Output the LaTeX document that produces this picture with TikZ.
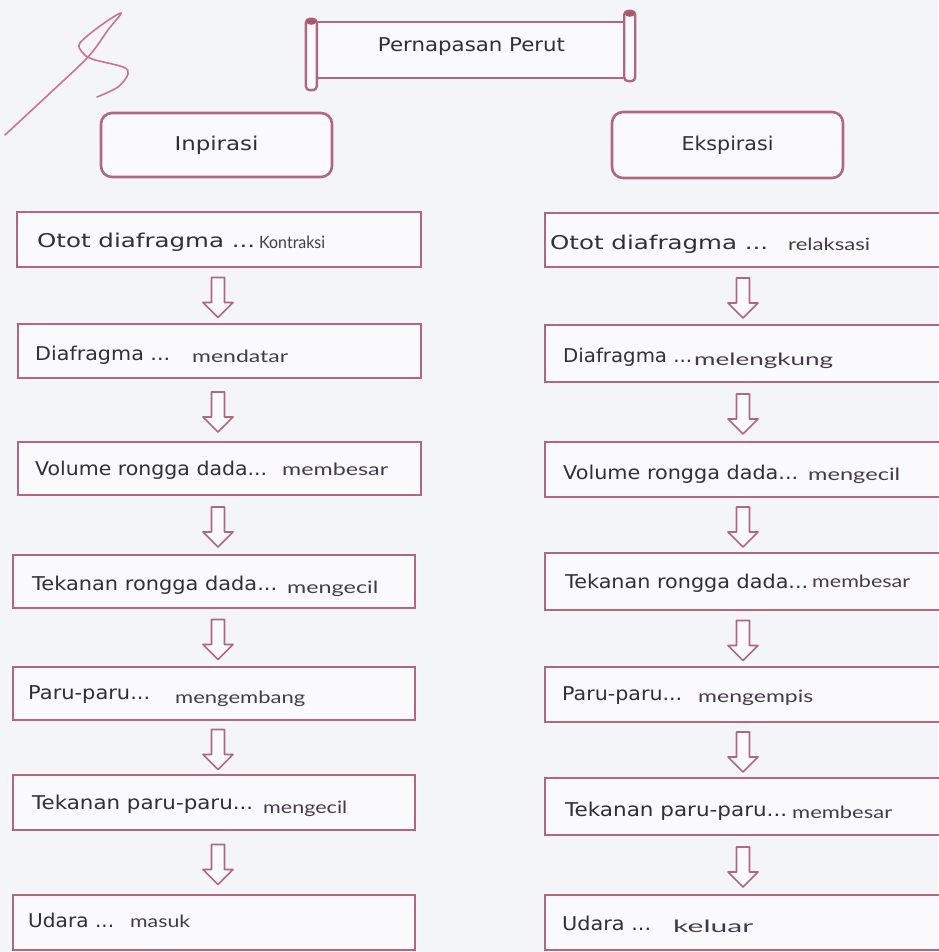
\documentclass[tikz,border=0pt]{standalone}
\usepackage{fontspec}
\usepackage{graphicx}
\setmainfont{DejaVu Sans}
\newfontfamily\hwfont{Lato}
\usetikzlibrary{calc}
\definecolor{bg}{RGB}{244,245,249}
\definecolor{boxfill}{RGB}{250,250,252}
\definecolor{frame}{RGB}{178,104,124}
\definecolor{capc}{RGB}{170,90,110}
\definecolor{ink}{RGB}{48,48,54}
\definecolor{pen}{RGB}{70,58,74}
\definecolor{squig}{RGB}{205,115,145}
\newcommand\hw[2]{\resizebox{#1pt}{\height}{#2}}
\begin{document}
\begin{tikzpicture}[x=1pt,y=-1pt,
  box/.style={draw=frame, line width=2.6pt, fill=boxfill, rectangle, inner sep=0pt},
  headbox/.style={draw=frame, line width=2.6pt, fill=boxfill, rectangle, rounded corners=11pt,
     minimum width=231pt, minimum height=64pt, font=\fontsize{19}{19}\selectfont, text=ink},
  typed/.style={font=\fontsize{19}{19}\selectfont, text=ink, inner sep=0pt, anchor=base west},
  hand/.style={font=\hwfont\fontsize{17}{17}\selectfont, text=pen, inner sep=0pt, anchor=base west},
  blk/.style={draw=frame, line width=1.7pt, fill=boxfill, line join=round},
  rollline/.style={draw=frame, line width=2.4pt, fill=boxfill},
  downblk/.pic={\draw[blk] (-6.5,-20) -- (6.5,-20) -- (6.5,5) -- (15,5) -- (0,20) -- (-15,5) -- (-6.5,5) -- cycle;}
]
\fill[bg] (0,0) rectangle (938,952);
\useasboundingbox (0,0) rectangle (938,952);

% signature squiggle
\draw[squig, line width=1.6pt, line cap=round, line join=round]
  plot[smooth, tension=0.55] coordinates {(5,135) (48,95) (88,57) (108,30) (121,13) (100,26) (80,43) (82,52) (92,59) (123,67) (128,74) (118,87) (97,97)};

% title scroll
\node[box, line width=2.4pt, minimum width=313pt, minimum height=56pt] (title) at (471.5,50) {};
\draw[rollline, rounded corners=4pt] ($(title.north west)+(-8,-2)$) rectangle ($(title.south west)+(3,11)$);
\draw[rollline, rounded corners=4pt] ($(title.north east)+(-5,-10)$) rectangle ($(title.south east)+(6,2)$);
\fill[capc] ($(title.north west)+(-2.5,1)$) ellipse (5pt and 3pt);
\fill[capc] ($(title.north east)+(0.5,-7)$) ellipse (5pt and 3pt);
\node[typed, anchor=center] (titletext) at (471.5,47) {\hw{187}{Pernapasan Perut}};

% headers
\node[headbox] (insp) at (216.5,145) {\hw{84}{Inpirasi}};
\node[headbox, minimum height=66pt] (eksp) at (727.5,145) {\hw{92}{Ekspirasi}};

% left column boxes
\node[box, minimum width=404pt, minimum height=55pt] (L1) at (219,239.5) {};
\node[box, minimum width=403pt, minimum height=54pt] (L2) at (219.5,351) {};
\node[box, minimum width=403pt, minimum height=53pt] (L3) at (219.5,468.5) {};
\node[box, minimum width=402pt, minimum height=53pt] (L4) at (214,581.5) {};
\node[box, minimum width=402pt, minimum height=53pt] (L5) at (214,693.5) {};
\node[box, minimum width=402pt, minimum height=55pt] (L6) at (214,802.5) {};
\node[box, minimum width=402pt, minimum height=55pt] (L7) at (214,922.5) {};

% right column boxes
\node[box, minimum width=400pt, minimum height=54pt] (R1) at (745,240) {};
\node[box, minimum width=400pt, minimum height=57pt] (R2) at (745,353.5) {};
\node[box, minimum width=400pt, minimum height=55pt] (R3) at (745,469.5) {};
\node[box, minimum width=400pt, minimum height=57pt] (R4) at (745,581.5) {};
\node[box, minimum width=400pt, minimum height=55pt] (R5) at (745,694.5) {};
\node[box, minimum width=400pt, minimum height=57pt] (R6) at (745,806.5) {};
\node[box, minimum width=400pt, minimum height=55pt] (R7) at (745,922.5) {};

% typed texts
\node[typed] (L1t) at (37,247.5) {\hw{218}{Otot diafragma ...}};
\node[typed] (L2t) at (35,360.5) {\hw{135}{Diafragma ...}};
\node[typed] (L3t) at (35,475.5) {\hw{232}{Volume rongga dada...}};
\node[typed] (L4t) at (32,590.5) {\hw{245}{Tekanan rongga dada...}};
\node[typed] (L5t) at (28,699.5) {\hw{122}{Paru-paru...}};
\node[typed] (L6t) at (32,809.5) {\hw{221}{Tekanan paru-paru...}};
\node[typed] (L7t) at (28,927.5) {\hw{86}{Udara ...}};

\node[typed] (R1t) at (550,249) {\hw{218}{Otot diafragma ...}};
\node[typed] (R2t) at (563,362) {\hw{129}{Diafragma ...}};
\node[typed] (R3t) at (563,479) {\hw{235}{Volume rongga dada...}};
\node[typed] (R4t) at (565,588) {\hw{243}{Tekanan rongga dada...}};
\node[typed] (R5t) at (562,700.5) {\hw{120}{Paru-paru...}};
\node[typed] (R6t) at (565,816) {\hw{222}{Tekanan paru-paru...}};
\node[typed] (R7t) at (562,930) {\hw{89}{Udara ...}};

% handwritten answers
\node[hand] (L1h) at (259,248) {\hw{66}{Kontraksi}};
\node[hand] (L2h) at (192,362) {\hw{96}{mendatar}};
\node[hand] (L3h) at (282,475) {\hw{106}{membesar}};
\node[hand] (L4h) at (287,593) {\hw{91}{mengecil}};
\node[hand] (L5h) at (175,703) {\hw{130}{mengembang}};
\node[hand] (L6h) at (263,813) {\hw{84}{mengecil}};
\node[hand] (L7h) at (130,927) {\hw{60}{masuk}};

\node[hand] (R1h) at (788,250) {\hw{82}{relaksasi}};
\node[hand] (R2h) at (694,365) {\hw{139}{melengkung}};
\node[hand] (R3h) at (808,480) {\hw{92}{mengecil}};
\node[hand] (R4h) at (812,587) {\hw{98}{membesar}};
\node[hand] (R5h) at (698,702) {\hw{115}{mengempis}};
\node[hand] (R6h) at (792,818) {\hw{100}{membesar}};
\node[hand] (R7h) at (673,932) {\hw{80}{keluar}};

% arrows between boxes
\coordinate (colL) at (218,0);
\coordinate (colR) at (743,0);
\foreach \a/\b [count=\i] in {1/2,2/3,3/4,4/5,5/6,6/7}{
  \coordinate (ml\i) at ($(L\a.south)!0.5!(L\b.north)+(0,2)$);
  \coordinate (mr\i) at ($(R\a.south)!0.5!(R\b.north)+(0,2)$);
  \pic at (colL |- ml\i) {downblk};
  \pic at (colR |- mr\i) {downblk};
}
\end{tikzpicture}
\end{document}
